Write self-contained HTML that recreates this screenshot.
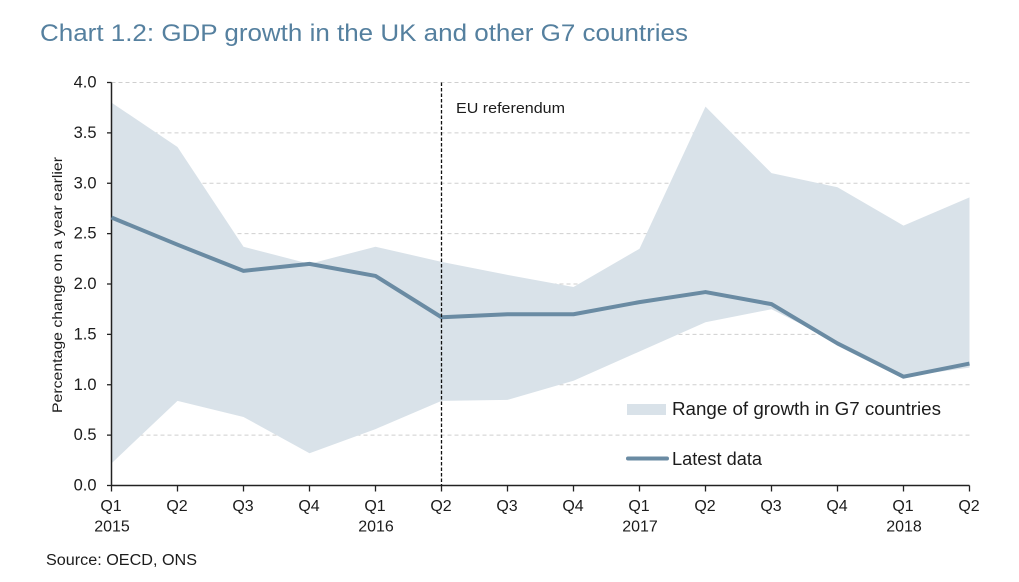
<!DOCTYPE html>
<html lang="en">
<head>
<meta charset="utf-8">
<title>Chart 1.2: GDP growth in the UK and other G7 countries</title>
<style>
html,body{margin:0;padding:0;background:#fff;width:1019px;height:582px;overflow:hidden}
svg{display:block}
text{font-family:"Liberation Sans",sans-serif;fill:#1c1c1c}
</style>
</head>
<body>
<svg id="chart" width="1019" height="582" viewBox="0 0 1019 582" xmlns="http://www.w3.org/2000/svg">
<text x="40" y="41" font-size="24.5" textLength="648" lengthAdjust="spacingAndGlyphs" style="fill:#55809f">Chart 1.2: GDP growth in the UK and other G7 countries</text>
<g id="grid"></g>
<path id="range" fill="#d9e2e9"></path>
<g id="axes"></g>
<polyline id="line" fill="none" stroke="#6a8ba3" stroke-width="4" stroke-linejoin="round" stroke-linecap="butt"></polyline>
<g id="marker"></g>
<text x="456" y="113" font-size="14.5" textLength="109" lengthAdjust="spacingAndGlyphs">EU referendum</text>
<text transform="translate(62,285) rotate(-90)" text-anchor="middle" font-size="14" textLength="256" lengthAdjust="spacingAndGlyphs">Percentage change on a year earlier</text>
<rect x="627" y="404" width="39" height="11" fill="#d9e2e9"></rect>
<text x="672" y="415" font-size="18" textLength="269" lengthAdjust="spacingAndGlyphs">Range of growth in G7 countries</text>
<line x1="628" y1="458.500" x2="667" y2="458.500" stroke="#6a8ba3" stroke-width="4" stroke-linecap="round"></line>
<text x="672" y="465" font-size="18" textLength="90" lengthAdjust="spacingAndGlyphs">Latest data</text>
<text x="46" y="565" font-size="15.500" textLength="151" lengthAdjust="spacingAndGlyphs">Source: OECD, ONS</text>
</svg>
<script>
const quarters = ["Q1","Q2","Q3","Q4","Q1","Q2","Q3","Q4","Q1","Q2","Q3","Q4","Q1","Q2"];
const years = ["2015","","","","2016","","","","2017","","","","2018",""];
const rangeHigh = [3.8,3.36,2.37,2.2,2.37,2.22,2.09,1.97,2.35,3.76,3.1,2.96,2.58,2.86];
const rangeLow = [0.22,0.84,0.68,0.32,0.56,0.84,0.85,1.04,1.33,1.62,1.75,1.42,1.08,1.17];
const latestData = [2.66,2.39,2.13,2.2,2.08,1.67,1.7,1.7,1.82,1.92,1.8,1.41,1.08,1.21];
const yTicks = [0,0.5,1,1.5,2,2.5,3,3.5,4];
const referendumIndex = 5;

const NS = "http://www.w3.org/2000/svg";
const xScale = i => 111.5 + i * (969.5 - 111.5) / (quarters.length - 1);
const yScale = v => 485.5 - v * (485.5 - 82.5) / 4;
function make(parent, tag, attrs, txt) {
  const el = document.createElementNS(NS, tag);
  for (const k in attrs) el.setAttribute(k, attrs[k]);
  if (txt !== undefined) el.textContent = txt;
  document.getElementById(parent).appendChild(el);
  return el;
}
yTicks.forEach(function (t) {
  if (t > 0) {
    const g = make("grid", "line", {x1: xScale(0), x2: xScale(quarters.length - 1), y1: yScale(t), y2: yScale(t), stroke: "#cfcfcf", "stroke-width": 1, "stroke-dasharray": "4 3"});
    
    
  }
  const tk = make("axes", "line", {x1: 107, x2: 111.5, y1: yScale(t), y2: yScale(t), stroke: "#222", "stroke-width": 1.3});
  
  
  const lb = make("axes", "text", {x: 96.5, y: yScale(t) + 5, "text-anchor": "end", "font-size": 16.5}, t.toFixed(1));
  
  
});
const upperEdge = rangeHigh.map((v, i) => xScale(i) + "," + yScale(v));
const lowerEdge = rangeLow.map((v, i) => xScale(i) + "," + yScale(v)).reverse();
document.getElementById("range").setAttribute("d", "M" + upperEdge.concat(lowerEdge).join("L") + "Z");
document.getElementById("line").setAttribute("points", latestData.map((v, i) => xScale(i) + "," + yScale(v)).join(" "));

const yAxis = make("axes", "line", {x1: xScale(0), x2: xScale(0), y1: yScale(4), y2: yScale(0), stroke: "#222", "stroke-width": 1.5});


const xAxis = make("axes", "line", {x1: xScale(0), x2: xScale(quarters.length - 1), y1: yScale(0), y2: yScale(0), stroke: "#222", "stroke-width": 1.5});


quarters.forEach(function (q, i) {
  const tk = make("axes", "line", {x1: xScale(i), x2: xScale(i), y1: yScale(0), y2: yScale(0) + 6, stroke: "#222", "stroke-width": 1.3});
  
  
  const lb = make("axes", "text", {x: xScale(i) - 0.5, y: 511, "text-anchor": "middle", "font-size": 16}, q);
  
  
  if (years[i]) {
    const yr = make("axes", "text", {x: xScale(i) + 0.5, y: 531.5, "text-anchor": "middle", "font-size": 16}, years[i]);
    
    
  }
});
const referendumLine = make("marker", "line", {x1: xScale(referendumIndex), x2: xScale(referendumIndex), y1: yScale(4), y2: yScale(0), stroke: "#111", "stroke-width": 1.3, "stroke-dasharray": "3.500 2"});


</script>
</body>
</html>
